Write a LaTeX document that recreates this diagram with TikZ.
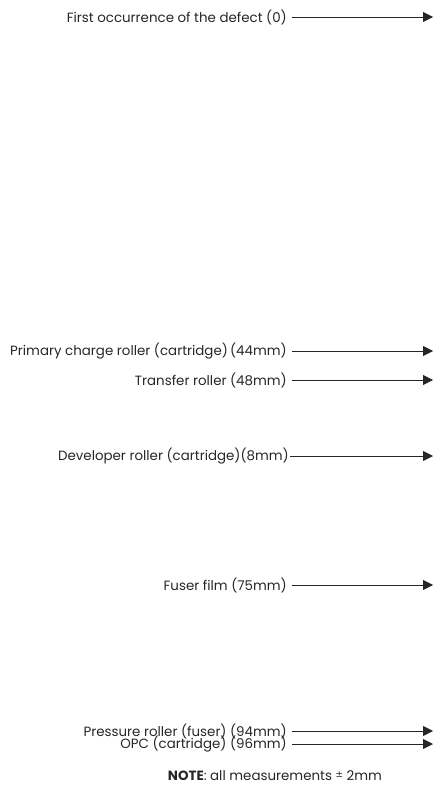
\documentclass[tikz,border=0pt]{standalone}
\usepackage{fontspec}
\setmainfont{Poppins}
\newfontfamily\symfont{DejaVu Sans}
\usetikzlibrary{arrows.meta}
\begin{document}
\begin{tikzpicture}[x=1pt,y=-1pt,
  lbl/.style={anchor=east,inner sep=0pt,font=\fontsize{13.4}{15}\selectfont,text=black!85},
  conn/.style={draw=black!85,line width=0.8pt,-{Triangle[length=10pt,width=10pt]}}]
\useasboundingbox (0,0) rectangle (433,791);
\node[lbl] (t0) at (287,17) {First occurrence of the defect (0)};
\coordinate (e0) at (433,17);
\node[lbl] (t1) at (287,351) {Primary charge roller (cartridge)\,(44mm)};
\coordinate (e1) at (433,351);
\node[lbl] (t2) at (287,380) {Transfer roller (48mm)};
\coordinate (e2) at (433,380);
\node[lbl] (t3) at (289,456) {Developer roller (cartridge)(8mm)};
\coordinate (e3) at (433,456);
\node[lbl] (t4) at (287,585) {Fuser film (75mm)};
\coordinate (e4) at (433,585);
\node[lbl] (t5) at (287,731) {Pressure roller (fuser) (94mm)};
\coordinate (e5) at (433,731);
\node[lbl] (t6) at (287,744) {OPC (cartridge) (96mm)};
\coordinate (e6) at (433,744);
\draw[conn] ([xshift=5pt]t0.east) -- (e0);
\draw[conn] ([xshift=5pt]t1.east) -- (e1);
\draw[conn] ([xshift=5pt]t2.east) -- (e2);
\draw[conn] ([xshift=1pt]t3.east) -- (e3);
\draw[conn] ([xshift=5pt]t4.east) -- (e4);
\draw[conn] ([xshift=5pt]t5.east) -- (e5);
\draw[conn] ([xshift=5pt]t6.east) -- (e6);
\node[inner sep=0pt,font=\fontsize{13.4}{15}\selectfont,text=black!85] (note) at (275,776) {\textbf{NOTE}: all measurements \raisebox{3pt}{\symfont\fontsize{9}{10}\selectfont ±} 2mm};
\end{tikzpicture}
\end{document}
